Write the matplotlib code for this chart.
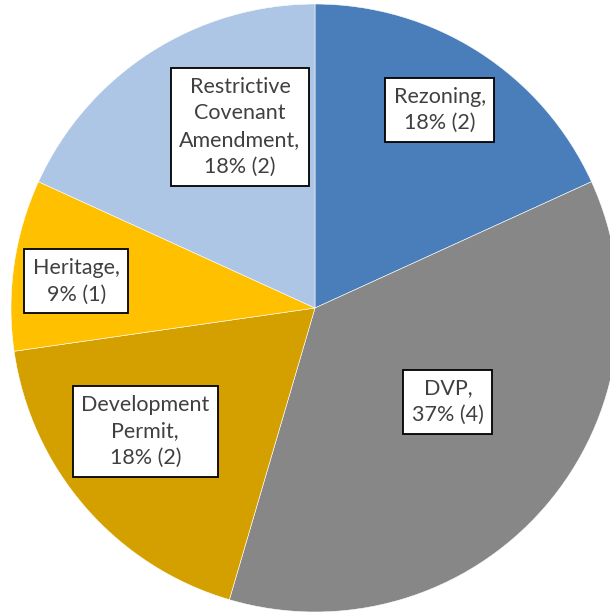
import numpy as np
import matplotlib
matplotlib.use("Agg")
import matplotlib.pyplot as plt

plt.rcParams['font.family'] = ['Lato', 'DejaVu Sans']

categories = ["Rezoning", "DVP", "Development\nPermit", "Heritage", "Restrictive\nCovenant\nAmendment"]
counts = [2, 4, 2, 1, 2]
percents = [18, 37, 18, 9, 18]
colors = ["#4a7ebb", "#878787", "#d4a000", "#ffc000", "#adc6e5"]
# label placement (fraction of radius, angle in degrees)
label_r = [0.77, 0.535, 0.69, 0.79, 0.645]
label_ang = [57.8, -35.2, -144.0, 173.6, 112.5]

W, H = 610, 613
fig = plt.figure(figsize=(W / 100, H / 100), dpi=100)
cx, cy, R = 315, 308, 304
ax = fig.add_axes([(cx - R) / W, (H - cy - R) / H, 2 * R / W, 2 * R / H])

wedges, _ = ax.pie(counts, colors=colors, startangle=90, counterclock=False,
                   radius=1.0, wedgeprops=dict(edgecolor="white", linewidth=0.4))
for w in wedges:
    w.set_clip_on(False)

for name, c, p, r, a in zip(categories, counts, percents, label_r, label_ang):
    txt = "{},\n{}% ({})".format(name, p, c)
    th = np.deg2rad(a)
    ax.text(r * np.cos(th), r * np.sin(th), txt, ha="center", va="center",
            fontsize=15.5, color="#404040", linespacing=1.42,
            bbox=dict(boxstyle="square,pad=0.4", facecolor="white",
                      edgecolor="black", linewidth=1.3))

ax.set_xlim(-1, 1)
ax.set_ylim(-1, 1)
ax.set_aspect("equal")
ax.axis("off")
fig.savefig("out.png", dpi=100, facecolor="white")
